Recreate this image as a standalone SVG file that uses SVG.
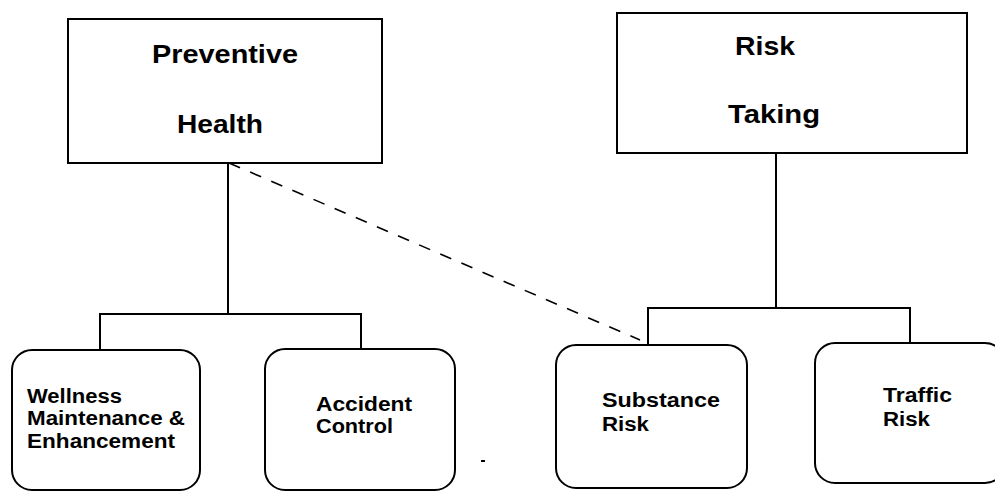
<svg xmlns="http://www.w3.org/2000/svg" width="995" height="491" viewBox="0 0 995 491">
<style>
.box{fill:#fff;stroke:#000;stroke-width:2}
.ln{fill:none;stroke:#000;stroke-width:2}
.dash{fill:none;stroke:#000;stroke-width:1.6;stroke-dasharray:12 11}
.t1{font-family:"Liberation Sans",Arial,sans-serif;font-weight:bold;font-size:25.5px;fill:#000}
.t2{font-family:"Liberation Sans",Arial,sans-serif;font-weight:bold;font-size:19.5px;fill:#000}
</style>
<rect width="995" height="491" fill="#fff"/>
<g id="connectors">
<polyline class="ln" points="228,163 228,314"/>
<polyline class="ln" points="100,350 100,314 361,314 361,350"/>
<polyline class="ln" points="776,153 776,308"/>
<polyline class="ln" points="648,344 648,308 910,308 910,343"/>
<line class="dash" x1="229" y1="163" x2="640" y2="340"/>
<line class="ln" x1="481" y1="461" x2="485" y2="461" stroke-width="1.5"/>
</g>
<g id="preventive-health">
<rect class="box" x="68" y="19" width="314" height="144"/>
<text class="t1" x="152" y="63" textLength="146" lengthAdjust="spacingAndGlyphs">Preventive</text>
<text class="t1" x="177" y="133" textLength="86" lengthAdjust="spacingAndGlyphs">Health</text>
</g>
<g id="risk-taking">
<rect class="box" x="617" y="13" width="350" height="140"/>
<text class="t1" x="735" y="55" textLength="60" lengthAdjust="spacingAndGlyphs">Risk</text>
<text class="t1" x="728" y="123" textLength="92" lengthAdjust="spacingAndGlyphs">Taking</text>
</g>
<g id="wellness">
<rect class="box" x="12" y="350" width="188" height="140" rx="20"/>
<text class="t2" x="27" y="403" textLength="95" lengthAdjust="spacingAndGlyphs">Wellness</text>
<text class="t2" x="27" y="425" textLength="158" lengthAdjust="spacingAndGlyphs">Maintenance &amp;</text>
<text class="t2" x="27" y="448" textLength="148" lengthAdjust="spacingAndGlyphs">Enhancement</text>
</g>
<g id="accident-control">
<rect class="box" x="265" y="349" width="190" height="141" rx="20"/>
<text class="t2" x="316" y="411" textLength="96" lengthAdjust="spacingAndGlyphs">Accident</text>
<text class="t2" x="316" y="433" textLength="77" lengthAdjust="spacingAndGlyphs">Control</text>
</g>
<g id="substance-risk">
<rect class="box" x="556" y="345" width="191" height="143" rx="20"/>
<text class="t2" x="602" y="407" textLength="118" lengthAdjust="spacingAndGlyphs">Substance</text>
<text class="t2" x="602" y="431" textLength="47" lengthAdjust="spacingAndGlyphs">Risk</text>
</g>
<g id="traffic-risk">
<rect class="box" x="815" y="343" width="190" height="140" rx="20"/>
<text class="t2" x="883" y="402" textLength="69" lengthAdjust="spacingAndGlyphs">Traffic</text>
<text class="t2" x="883" y="426" textLength="47" lengthAdjust="spacingAndGlyphs">Risk</text>
</g>
</svg>
